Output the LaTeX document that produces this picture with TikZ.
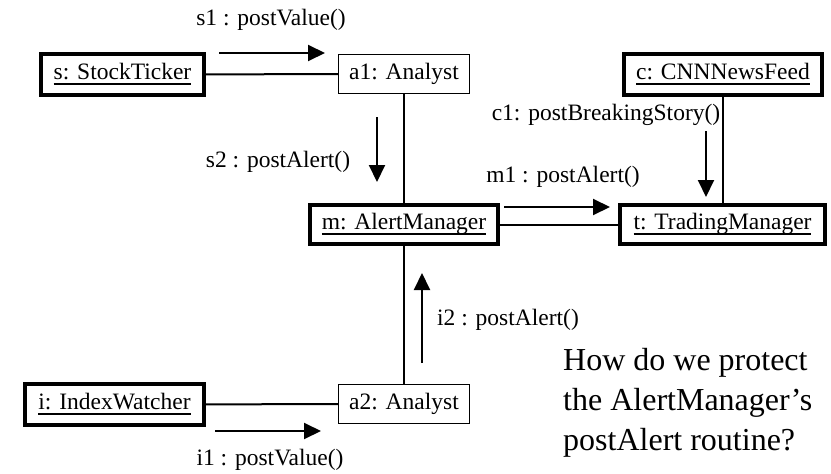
\documentclass[tikz,border=0pt]{standalone}
\usepackage{fontspec}
\setmainfont{Liberation Serif}
\usetikzlibrary{arrows.meta}
\newcommand{\objname}[1]{\setbox0\hbox{#1}\rlap{\rule[-5.5pt]{\wd0}{2pt}}\box0}
\tikzset{
    obj/.style={
           rectangle,
           draw=black, line width=4pt,
           inner sep=0pt,
           font=\fontsize{23.5}{27}\selectfont,
           },
    anl/.style={
           rectangle,
           draw=black, line width=1.3pt,
           inner sep=0pt,
           font=\fontsize{23.5}{27}\selectfont,
           },
    msg/.style={
           inner sep=0pt,
           font=\fontsize{23.5}{27}\selectfont,
           },
    call/.style={
           -{Triangle[length=17pt,width=16pt]},
           line width=2pt,
           },
}

\begin{document}
\begin{tikzpicture}[x=1pt,y=-1pt]
\useasboundingbox (0,0) rectangle (831,474);
\node[obj, minimum width=163pt, minimum height=41pt] (s) at (122.5,74.5) {\objname{s: StockTicker}};
\node[anl, minimum width=131pt, minimum height=39pt] (a1) at (404,74) {a1: Analyst};
\node[obj, minimum width=188pt, minimum height=39pt] (m) at (404,224.5) {\objname{m: AlertManager}};
\node[obj, minimum width=198pt, minimum height=41pt] (c) at (723,74.5) {\objname{c: CNNNewsFeed}};
\node[obj, minimum width=205pt, minimum height=39pt] (t) at (722.5,224.5) {\objname{t: TradingManager}};
\node[obj, minimum width=179pt, minimum height=41pt] (i) at (114.5,404.5) {\objname{i: IndexWatcher}};
\node[anl, minimum width=131pt, minimum height=39pt] (a2) at (404,404) {a2: Analyst};
\draw[line width=2pt] (s) -- (a1);
\draw[line width=2pt] (a1) -- (m);
\draw[line width=2pt] (m) -- (t);
\draw[line width=2pt] (c) -- (c |- t.north);
\draw[line width=2pt] (i) -- (a2);
\draw[line width=2pt] (a2) -- (m);
\coordinate (s1a) at (219,53);
\coordinate (s1b) at (325,53);
\draw[call] (s1a) to (s1b);
\node[msg] (s1) at (271,20) {s1 : postValue()};
\coordinate (s2a) at (377,117);
\coordinate (s2b) at (377,182);
\draw[call] (s2a) to (s2b);
\node[msg] (s2) at (278,162) {s2 : postAlert()};
\coordinate (c1a) at (706,131);
\coordinate (c1b) at (706,197);
\draw[call] (c1a) to (c1b);
\node[msg] (c1) at (606,115) {c1: postBreakingStory()};
\coordinate (m1a) at (504,207);
\coordinate (m1b) at (610,207);
\draw[call] (m1a) to (m1b);
\node[msg] (m1) at (563,177) {m1 : postAlert()};
\coordinate (i2a) at (422,363);
\coordinate (i2b) at (422,273);
\draw[call] (i2a) to (i2b);
\node[msg, anchor=west] (i2) at (437,320) {i2 : postAlert()};
\coordinate (i1a) at (215,431);
\coordinate (i1b) at (321,431);
\draw[call] (i1a) to (i1b);
\node[msg] (i1) at (270,460) {i1 : postValue()};
\node[inner sep=0pt, anchor=west, align=left, font=\fontsize{32}{40}\selectfont] (q) at (563,403)
  {How do we protect\\the AlertManager’s\\postAlert routine?};
\end{tikzpicture}
\end{document}
